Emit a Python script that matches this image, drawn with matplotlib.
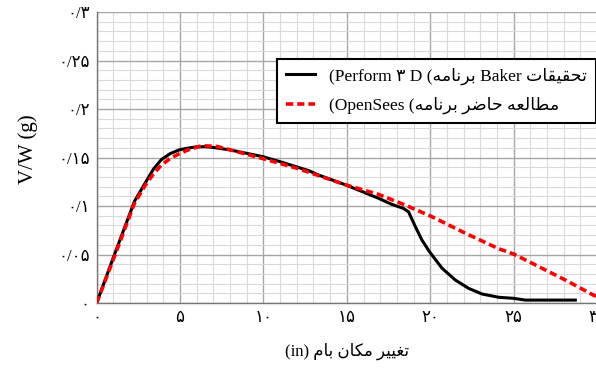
import numpy as np
import matplotlib
matplotlib.use('Agg')
import matplotlib.pyplot as plt
from matplotlib.ticker import MultipleLocator, FixedLocator

# Baker (Perform 3D) curve
baker_x = [0, 0.98, 2.27, 2.97, 3.4, 3.87, 4.4, 4.96, 5.5, 5.96, 6.5, 6.95, 7.95,
           8.95, 9.94, 10.94, 12.73, 13.3, 14.9, 15.9, 16.9, 17.7, 18.1, 18.4,
           18.7, 19.1, 19.5, 19.95, 20.7, 21.5, 22.3, 23.1, 24.1, 25.0, 25.7, 28.7]
baker_y = [0, 0.046, 0.105, 0.1255, 0.138, 0.1477, 0.154, 0.158, 0.1598, 0.161,
           0.1612, 0.1605, 0.158, 0.1545, 0.151, 0.146, 0.1364, 0.132, 0.122,
           0.115, 0.108, 0.1017, 0.0993, 0.0975, 0.094, 0.079, 0.065, 0.053,
           0.036, 0.0237, 0.0151, 0.0093, 0.0059, 0.0048, 0.003, 0.003]

# present study (OpenSees) curve
ops_x = [0, 1.0, 2.27, 2.97, 3.4, 3.87, 4.4, 4.96, 5.5, 6.3, 7.2, 8.0, 9.94,
         12.0, 14.9, 16.9, 18.5, 20.1, 22.1, 24.1, 25.0, 26.1, 28.1, 29.8, 30.5]
ops_y = [0, 0.045, 0.103, 0.123, 0.133, 0.142, 0.149, 0.154, 0.158, 0.1622,
         0.1615, 0.158, 0.149, 0.139, 0.122, 0.112, 0.101, 0.089, 0.072, 0.056,
         0.0505, 0.041, 0.0237, 0.008, 0.003]

x_ticks = [0, 5, 10, 15, 20, 25, 30]
x_labels = ['۰', '۵', '۱۰', '۱۵', '۲۰', '۲۵', '۳۰']
y_ticks = [0, 0.05, 0.1, 0.15, 0.2, 0.25, 0.3]
y_labels = ['۰', '۰/۰۵', '۰/۱', '۰/۱۵', '۰/۲', '۰/۲۵', '۰/۳']

# simple arabic shaping (matplotlib has no shaper / bidi)
DUAL = set('بتثجحخسشصضطظعغفقکگلمنهیپچ')
FORMS = {
    'ا': ('\uFE8D', '\uFE8E', None, None),
    'ب': ('\uFE8F', '\uFE90', '\uFE91', '\uFE92'),
    'ت': ('\uFE95', '\uFE96', '\uFE97', '\uFE98'),
    'ح': ('\uFEA1', '\uFEA2', '\uFEA3', '\uFEA4'),
    'ر': ('\uFEAD', '\uFEAE', None, None),
    'ض': ('\uFEBD', '\uFEBE', '\uFEBF', '\uFEC0'),
    'ط': ('\uFEC1', '\uFEC2', '\uFEC3', '\uFEC4'),
    'ع': ('\uFEC9', '\uFECA', '\uFECB', '\uFECC'),
    'غ': ('\uFECD', '\uFECE', '\uFECF', '\uFED0'),
    'ق': ('\uFED5', '\uFED6', '\uFED7', '\uFED8'),
    'ک': ('\uFB8E', '\uFB8F', '\uFB90', '\uFB91'),
    'ل': ('\uFEDD', '\uFEDE', '\uFEDF', '\uFEE0'),
    'م': ('\uFEE1', '\uFEE2', '\uFEE3', '\uFEE4'),
    'ن': ('\uFEE5', '\uFEE6', '\uFEE7', '\uFEE8'),
    'ه': ('\uFEE9', '\uFEEA', '\uFEEB', '\uFEEC'),
    'ی': ('\uFEEF', '\uFEF0', '\uFEF3', '\uFEF4'),
}


def fa(word):
    out = []
    for i, c in enumerate(word):
        prev = i > 0 and word[i - 1] in DUAL
        nxt = c in DUAL and i < len(word) - 1 and word[i + 1] in FORMS
        if prev and nxt:
            g = FORMS[c][3]
        elif prev:
            g = FORMS[c][1]
        elif nxt:
            g = FORMS[c][2]
        else:
            g = FORMS[c][0]
        out.append(g)
    return ''.join(reversed(out))


fonts = ['Liberation Serif', 'DejaVu Sans']
plt.rcParams['font.family'] = fonts

label_baker = '(Perform ۳ D (' + fa('برنامه') + ' Baker ' + fa('تحقیقات')
label_ops = '(OpenSees (' + fa('برنامه') + ' ' + fa('حاضر') + ' ' + fa('مطالعه')
x_title = '(in) ' + fa('بام') + ' ' + fa('مکان') + ' ' + fa('تغییر')

fig = plt.figure(figsize=(5.96, 3.72), dpi=100)
ax = fig.add_axes([0.1622, 0.1855, 0.8395, 0.782])

ax.plot(baker_x, baker_y, color='black', lw=2.2, label=label_baker, zorder=3)
ax.plot(ops_x, ops_y, color='#ff0000', lw=2.6, dashes=(2.0, 1.1),
        label=label_ops, zorder=4)

ax.set_xlim(0, 30)
ax.set_ylim(0, 0.3)
ax.xaxis.set_major_locator(FixedLocator(x_ticks))
ax.yaxis.set_major_locator(FixedLocator(y_ticks))
ax.xaxis.set_minor_locator(MultipleLocator(1))
ax.yaxis.set_minor_locator(MultipleLocator(0.01))
ax.set_xticklabels(x_labels, fontsize=12)
ax.set_yticklabels(y_labels, fontsize=12)
ax.tick_params(which='both', length=0)
ax.tick_params(axis='x', pad=5)
ax.tick_params(axis='y', pad=5)

ax.grid(which='major', color='#a6a6a6', lw=1.0)
ax.grid(which='minor', color='#d9d9d9', lw=0.8)
ax.set_axisbelow(True)
for s in ['top', 'right']:
    ax.spines[s].set_visible(False)
for s in ['left', 'bottom']:
    ax.spines[s].set_color('#777777')
    ax.spines[s].set_linewidth(1.0)

ax.set_xlabel(x_title, fontsize=12, labelpad=12)
ax.set_ylabel('V/W (g)', fontsize=15)
ax.yaxis.set_label_coords(-0.118, 0.53)

leg = ax.legend(loc='upper right', bbox_to_anchor=(0.997, 0.84), fontsize=12.5,
                frameon=True, fancybox=False, borderaxespad=0, handlelength=1.7,
                labelspacing=0.7, borderpad=0.5)
leg.get_frame().set_edgecolor('black')
leg.get_frame().set_linewidth(1.5)
leg.get_frame().set_alpha(1)

fig.savefig('out.png', dpi=100)
